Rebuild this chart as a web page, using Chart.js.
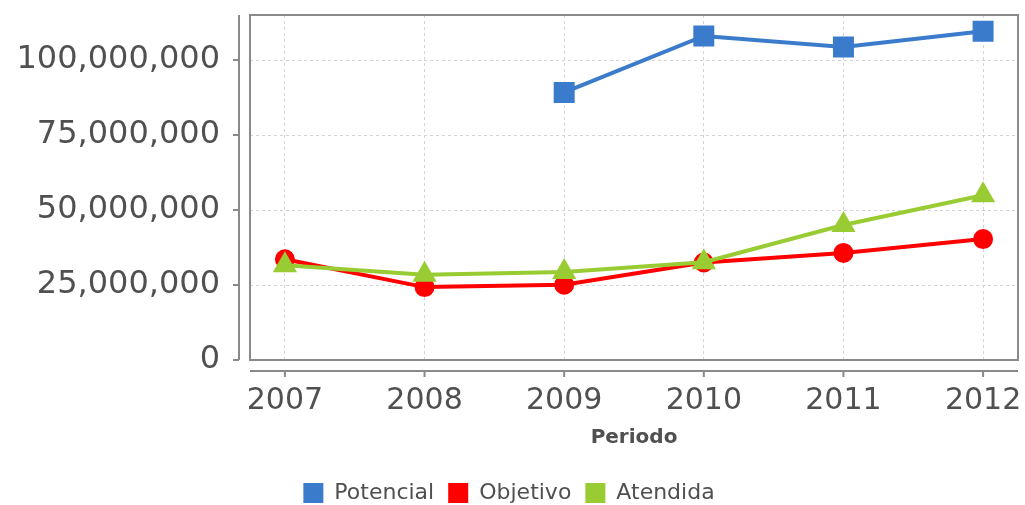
<!DOCTYPE html>
<html>
<head>
<meta charset="utf-8">
<script src="https://cdn.jsdelivr.net/npm/chart.js@4"></script>
<style>
  body { margin: 0; background: #fff; }
  #wrap { width: 1025px; height: 505px; }
</style>
</head>
<body>
<div id="wrap"><canvas id="chart" width="1025" height="505"></canvas></div>
<script>
// Data
const years = [2007, 2008, 2009, 2010, 2011, 2012];
const potencial = [null, null, 89200000, 108000000, 104300000, 109600000];
const objetivo = [33600000, 24300000, 25100000, 32500000, 35700000, 40300000];
const atendida = [31600000, 28400000, 29300000, 32600000, 45000000, 54900000];
const yTickValues = [0, 25000000, 50000000, 75000000, 100000000];

const seriesNames = ['Potencial', 'Objetivo', 'Atendida'];
const seriesColors = ['#3a7bcc', '#ff0000', '#99cc33'];

const axisColor = '#8a8a8a';
const textColor = '#505050';

function toPoints(values) {
    return years.map((y, i) => ({ x: y, y: values[i] }));
}

// Draws the plot frame and the detached JFreeChart-style axis lines
const frameAndAxes = {
    id: 'frameAndAxes',
    beforeDatasetsDraw(chart) {
        const { ctx, chartArea: a, scales } = chart;
        ctx.save();
        ctx.strokeStyle = axisColor;
        ctx.lineWidth = 2;
        ctx.strokeRect(a.left, a.top, a.right - a.left, a.bottom - a.top);

        // y axis line, offset left of plot
        const ax = a.left - 11;
        ctx.beginPath();
        ctx.moveTo(ax, a.top);
        ctx.lineTo(ax, a.bottom);
        scales.y.ticks.forEach(t => {
            const py = scales.y.getPixelForValue(t.value);
            ctx.moveTo(ax - 6, py);
            ctx.lineTo(ax, py);
        });
        // x axis line, offset below plot
        const ay = a.bottom + 11;
        ctx.moveTo(a.left, ay);
        ctx.lineTo(a.right, ay);
        scales.x.ticks.forEach(t => {
            const px = scales.x.getPixelForValue(t.value);
            ctx.moveTo(px, ay);
            ctx.lineTo(px, ay + 6);
        });
        ctx.stroke();
        ctx.restore();
    }
};

const ctx = document.getElementById('chart').getContext('2d');

new Chart(ctx, {
    type: 'line',
    data: {
        datasets: [
            {
                label: seriesNames[0],
                data: toPoints(potencial),
                borderColor: seriesColors[0],
                backgroundColor: seriesColors[0],
                borderWidth: 4,
                pointStyle: 'rect',
                pointRadius: 12,
                pointHoverRadius: 12,
                order: 3
            },
            {
                label: seriesNames[1],
                data: toPoints(objetivo),
                borderColor: seriesColors[1],
                backgroundColor: seriesColors[1],
                borderWidth: 4,
                pointStyle: 'circle',
                pointRadius: 8,
                pointHoverRadius: 8,
                order: 2
            },
            {
                label: seriesNames[2],
                data: toPoints(atendida),
                borderColor: seriesColors[2],
                backgroundColor: seriesColors[2],
                borderWidth: 4,
                pointStyle: 'triangle',
                pointRadius: 10,
                pointHoverRadius: 10,
                order: 1  // drawn on top, like the reference
            }
        ]
    },
    options: {
        responsive: false,
        animation: false,
        layout: {
            autoPadding: false,
            padding: { top: 15, right: 7, left: 0, bottom: -9 }
        },
        scales: {
            x: {
                type: 'linear',
                min: 2006.75,
                max: 2012.25,
                border: { display: false, dash: [3, 3] },
                grid: {
                    color: '#d4d4d4',
                    lineWidth: 1,
                    drawTicks: false
                },
                ticks: {
                    stepSize: 1,
                    includeBounds: false,
                    padding: 23,
                    color: textColor,
                    font: { family: 'DejaVu Sans', size: 30 },
                    callback: (v) => Number.isInteger(v) ? String(v) : ''
                },
                title: {
                    display: true,
                    text: 'Periodo',
                    color: textColor,
                    font: { family: 'DejaVu Sans', size: 20, weight: 'bold' },
                    padding: { top: 0, bottom: 18 }
                },
                afterFit: (scale) => {
                    scale.height = 108;
                    scale.paddingLeft = 0;
                    scale.paddingRight = 0;
                }
            },
            y: {
                min: 0,
                max: 115000000,
                border: { display: false, dash: [3, 3] },
                grid: {
                    color: '#d4d4d4',
                    lineWidth: 1,
                    drawTicks: false
                },
                ticks: {
                    padding: 30,
                    color: textColor,
                    font: { family: 'DejaVu Sans', size: 32 },
                    callback: (v) => v.toLocaleString('en-US')
                },
                afterBuildTicks: (scale) => {
                    scale.ticks = yTickValues.map(v => ({ value: v }));
                },
                afterFit: (scale) => {
                    scale.width = 250;
                    scale.paddingTop = 0;
                    scale.paddingBottom = 0;
                }
            }
        },
        plugins: {
            legend: {
                position: 'bottom',
                labels: {
                    boxWidth: 20,
                    boxHeight: 20,
                    padding: 14,
                    color: textColor,
                    font: { family: 'DejaVu Sans', size: 22 },
                    sort: (a, b) => a.datasetIndex - b.datasetIndex,
                    generateLabels: (chart) =>
                        Chart.defaults.plugins.legend.labels.generateLabels(chart)
                            .map(l => ({ ...l, lineWidth: 0 }))
                }
            },
            tooltip: { enabled: false }
        }
    },
    plugins: [frameAndAxes]
});
</script>
</body>
</html>
